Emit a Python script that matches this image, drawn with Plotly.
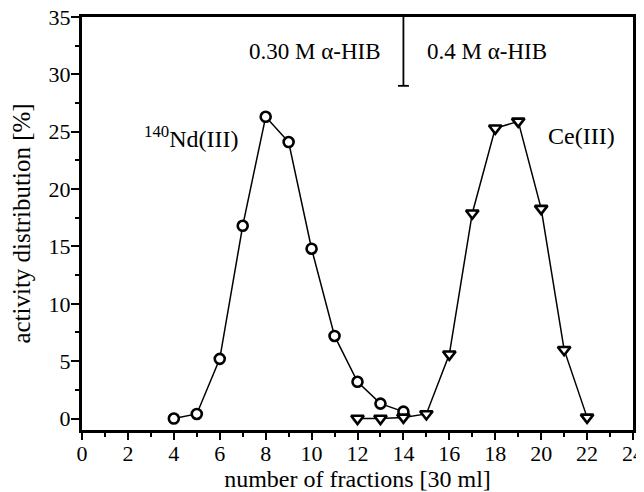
import plotly.graph_objects as go

# ---- data ----
nd_fraction = [4, 5, 6, 7, 8, 9, 10, 11, 12, 13, 14]
nd_activity = [0.0, 0.4, 5.2, 16.8, 26.3, 24.1, 14.8, 7.2, 3.2, 1.3, 0.6]

ce_fraction = [12, 13, 14, 15, 16, 17, 18, 19, 20, 21, 22]
ce_activity = [0.0, 0.0, 0.1, 0.4, 5.6, 17.9, 25.3, 25.9, 18.3, 6.0, 0.1]

x_ticks = list(range(0, 25, 2))
y_ticks = list(range(0, 36, 5))

divider_x = 14
divider_y = [29, 35]
divider_cap_half = 0.24

FONT = "Liberation Serif, Times New Roman, serif"

fig = go.Figure()

fig.add_trace(go.Scatter(
    x=nd_fraction, y=nd_activity, mode="lines+markers", name="Nd(III)",
    line=dict(color="black", width=1.5),
    marker=dict(symbol="circle", size=10, color="white",
                line=dict(color="black", width=2.6)),
    cliponaxis=False,
))
fig.add_trace(go.Scatter(
    x=ce_fraction, y=ce_activity, mode="lines+markers", name="Ce(III)",
    line=dict(color="black", width=1.5),
    marker=dict(symbol="triangle-down", size=11, color="white",
                line=dict(color="black", width=2.6)),
    cliponaxis=False,
))

# divider between eluent concentrations
fig.add_shape(type="line", xref="x", yref="y",
              x0=divider_x, x1=divider_x, y0=divider_y[0], y1=divider_y[1],
              line=dict(color="black", width=1.8))
fig.add_shape(type="line", xref="x", yref="y",
              x0=divider_x - divider_cap_half, x1=divider_x + divider_cap_half,
              y0=divider_y[0], y1=divider_y[0],
              line=dict(color="black", width=1.8))

ann_font = dict(family=FONT, size=23, color="black")
lab_font = dict(family=FONT, size=24, color="black")
fig.add_annotation(x=13.1, y=32, xref="x", yref="y", text="0.30 M α-HIB",
                   showarrow=False, xanchor="right", yanchor="middle", font=ann_font)
fig.add_annotation(x=14.94, y=32, xref="x", yref="y", text="0.4 M α-HIB",
                   showarrow=False, xanchor="left", yanchor="middle", font=ann_font)
fig.add_annotation(x=2.6, y=24.5, xref="x", yref="y", text="<sup>140</sup>Nd(III)",
                   showarrow=False, xanchor="left", yanchor="middle", font=lab_font)
fig.add_annotation(x=23.3, y=24.6, xref="x", yref="y", text="Ce(III)",
                   showarrow=False, xanchor="right", yanchor="middle", font=lab_font)

axis_common = dict(
    showline=True, linecolor="black", linewidth=3, mirror=True,
    showgrid=False, zeroline=False, automargin=False,
    ticks="outside", tickcolor="black", tickwidth=2,
    ticklabeloverflow="allow",
    tickfont=dict(family=FONT, size=22, color="black"),
)

fig.update_xaxes(
    range=[0, 24], tickvals=x_ticks, ticklen=7, ticklabelstandoff=-5,
    minor=dict(ticks="outside", dtick=1, ticklen=4, tickwidth=2, tickcolor="black"),
    title=dict(text="number of fractions [30 ml]",
               font=dict(family=FONT, size=24, color="black"), standoff=6),
    **axis_common,
)
fig.update_yaxes(
    range=[-1, 35], tickvals=y_ticks, ticklen=8, ticklabelstandoff=-4,
    minor=dict(ticks="outside", dtick=2.5, ticklen=4, tickwidth=2, tickcolor="black"),
    title=dict(text="activity distribution [%]",
               font=dict(family=FONT, size=25, color="black"), standoff=11),
    **axis_common,
)

# the page body adds an 8 px offset, so the figure is sized to the remaining area
fig.update_layout(
    width=636, height=484,
    margin=dict(l=74, r=11, t=9, b=62),
    paper_bgcolor="white", plot_bgcolor="white",
    showlegend=False,
    font=dict(family=FONT, color="black"),
)

fig.write_html("out.html")
